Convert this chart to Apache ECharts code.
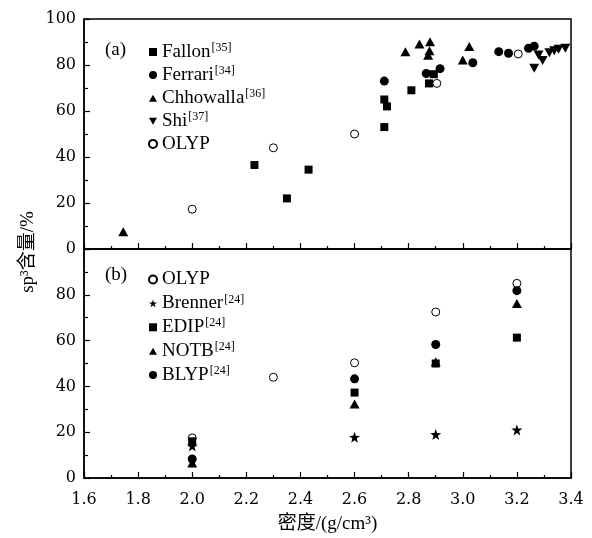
<!DOCTYPE html>
<html><head><meta charset="utf-8">
<script src="https://cdn.jsdelivr.net/npm/echarts@6/dist/echarts.min.js"></script>
<style>html,body{margin:0;padding:0;background:#fff}#c{width:592px;height:538px}</style>
</head><body><div id="c"></div>
<script>
// x tick labels (density, g/cm3)
const xTicks = ['1.6','1.8','2.0','2.2','2.4','2.6','2.8','3.0','3.2','3.4'];
// Panel (a) data: [density, sp3 %]
const fallon = [[2.23,36.5],[2.35,22],[2.43,34.5],[2.71,53],[2.71,65],[2.72,62],[2.81,69],[2.875,72],[2.893,76]];
const ferrari = [[2.71,73],[2.865,76.3],[2.916,78.4],[3.037,81],[3.133,85.8],[3.169,85.1],[3.243,87.3],[3.264,88.2]];
const chhowalla = [[1.745,7.5],[2.788,85.8],[2.84,89.1],[2.879,90.1],[2.877,86.2],[2.872,84.2],[3.024,88],[3.0,82.2]];
const shi = [[3.264,78.6],[3.28,84.3],[3.295,82],[3.32,85.3],[3.338,86.2],[3.354,86.8],[3.379,87.3]];
const olypA = [[2.0,17.3],[2.3,44],[2.6,50],[2.904,72],[3.205,84.8]];
// Panel (b) data
const olypB = [[2.0,17.5],[2.3,44],[2.6,50.3],[2.9,72.5],[3.2,85]];
const brenner = [[2.0,14],[2.6,17.8],[2.9,19],[3.2,21]];
const edip = [[2.0,16],[2.6,37.3],[2.9,50],[3.2,61.3]];
const notb = [[2.0,6.5],[2.6,32.3],[2.9,50.8],[3.2,76.2]];
const blyp = [[2.0,8.3],[2.6,43.3],[2.9,58.3],[3.2,81.8]];
const refs = {Fallon:'35', Ferrari:'34', Chhowalla:'36', Shi:'37', Brenner:'24', EDIP:'24', NOTB:'24', BLYP:'24'};

const SERIF = '"Liberation Serif","Times New Roman",serif';
const TICKF = '"DejaVu Serif","Liberation Serif",serif';
const CJK = '"Liberation Serif","Noto Sans CJK SC",serif';
const STAR = 'path://M50,0 L61.8,33.8 L97.6,34.5 L69,56.2 L79.4,90.5 L50,70 L20.6,90.5 L31,56.2 L2.4,34.5 L38.2,33.8 Z';
const DOWN = 'path://M0,0 L100,0 L50,87 Z';
const UP = 'path://M50,0 L100,87 L0,87 Z';

const chart = echarts.init(document.getElementById('c'), null, {renderer:'canvas'});
const black = {color:'#000', opacity:1};
const open = {color:'#fff', borderColor:'#000', borderWidth:1, opacity:1};

function xAxis(gi, showLabels){
  return {type:'value', gridIndex:gi, min:1.6, max:3.4, interval:0.2,
    axisLine:{lineStyle:{color:'#000', width:1.5}},
    axisTick:{inside:true, length:6, lineStyle:{color:'#000', width:1.2}},
    minorTick:{show:true, splitNumber:2, length:3, lineStyle:{color:'#000', width:1.2}},
    splitLine:{show:false},
    axisLabel:{show:showLabels, color:'#000', fontFamily:TICKF, fontSize:16, margin:14,
      formatter:v=>xTicks[Math.round((v-1.6)/0.2)]},
    name: showLabels ? '密度/(g/cm³)' : '', nameLocation:'middle', nameGap:37,
    nameTextStyle:{color:'#000', fontFamily:CJK, fontSize:19}
  };
}
function yAxis(gi, hideTop){
  return {type:'value', gridIndex:gi, min:0, max:100, interval:20,
    axisLine:{lineStyle:{color:'#000', width:1.5}},
    axisTick:{inside:true, length:6, lineStyle:{color:'#000', width:1.2}},
    minorTick:{show:true, splitNumber:2, length:4, lineStyle:{color:'#000', width:1.2}},
    splitLine:{show:false},
    axisLabel:{color:'#000', fontFamily:TICKF, fontSize:16, margin:8,
      formatter:v=> (hideTop && v===100) ? '' : String(v)}
  };
}
const legendText = {
  fontFamily:SERIF, fontSize:19, color:'#000',
  rich:{
    n:{fontFamily:SERIF, fontSize:19, color:'#000', lineHeight:20},
    s:{fontFamily:SERIF, fontSize:12, color:'#000', verticalAlign:'top', lineHeight:12, padding:[0,0,0,1]}
  }
};
const fmt = name => '{n|'+name+'}' + (refs[name] ? '{s|['+refs[name]+']}' : '');

function sc(name, data, symbol, size, style, xi){
  return {type:'scatter', name, data, symbol, symbolSize:size, itemStyle:style,
    xAxisIndex:xi, yAxisIndex:xi, emphasis:{disabled:true}, z:2};
}

chart.setOption({
  animation:false,
  backgroundColor:'#fff',
  grid:[
    {left:84, top:19, width:487, height:230, show:true, borderColor:'#000', borderWidth:1.5, backgroundColor:'transparent'},
    {left:84, top:249, width:487, height:229, show:true, borderColor:'#000', borderWidth:1.5, backgroundColor:'transparent'}
  ],
  xAxis:[xAxis(0,false), xAxis(1,true)],
  yAxis:[yAxis(0,false), yAxis(1,true)],
  legend:[
    {orient:'vertical', left:143, top:37, itemWidth:8, itemHeight:8, itemGap:3.6,
     data:['Fallon','Ferrari','Chhowalla','Shi','OLYP'], formatter:fmt, textStyle:legendText, selectedMode:false},
    {orient:'vertical', left:143, top:265, itemWidth:8, itemHeight:8, itemGap:4.4,
     data:['OLYP ','Brenner','EDIP','NOTB','BLYP'], formatter:n=>fmt(n.trim()), textStyle:legendText, selectedMode:false}
  ],
  graphic:[
    {type:'text', left:105, top:41, style:{text:'(a)', font:'19px '+SERIF, fill:'#000'}},
    {type:'text', left:105, top:266, style:{text:'(b)', font:'19px '+SERIF, fill:'#000'}},
    {type:'text', x:28, y:252, rotation:Math.PI/2,
     style:{text:'sp³含量/%', font:'19px '+CJK, fill:'#000', align:'center', verticalAlign:'middle'}}
  ],
  series:[
    sc('Fallon', fallon, 'rect', 8, black, 0),
    sc('Ferrari', ferrari, 'circle', 9, black, 0),
    sc('Chhowalla', chhowalla, UP, [10,9], black, 0),
    sc('Shi', shi, DOWN, [10,9], black, 0),
    sc('OLYP', olypA, 'circle', 8, open, 0),
    sc('OLYP ', olypB, 'circle', 8, open, 1),
    sc('Brenner', brenner, STAR, 11, black, 1),
    sc('NOTB', notb, UP, [10,9], black, 1),
    sc('EDIP', edip, 'rect', 8, black, 1),
    sc('BLYP', blyp, 'circle', 9, black, 1)
  ]
});
</script></body></html>
